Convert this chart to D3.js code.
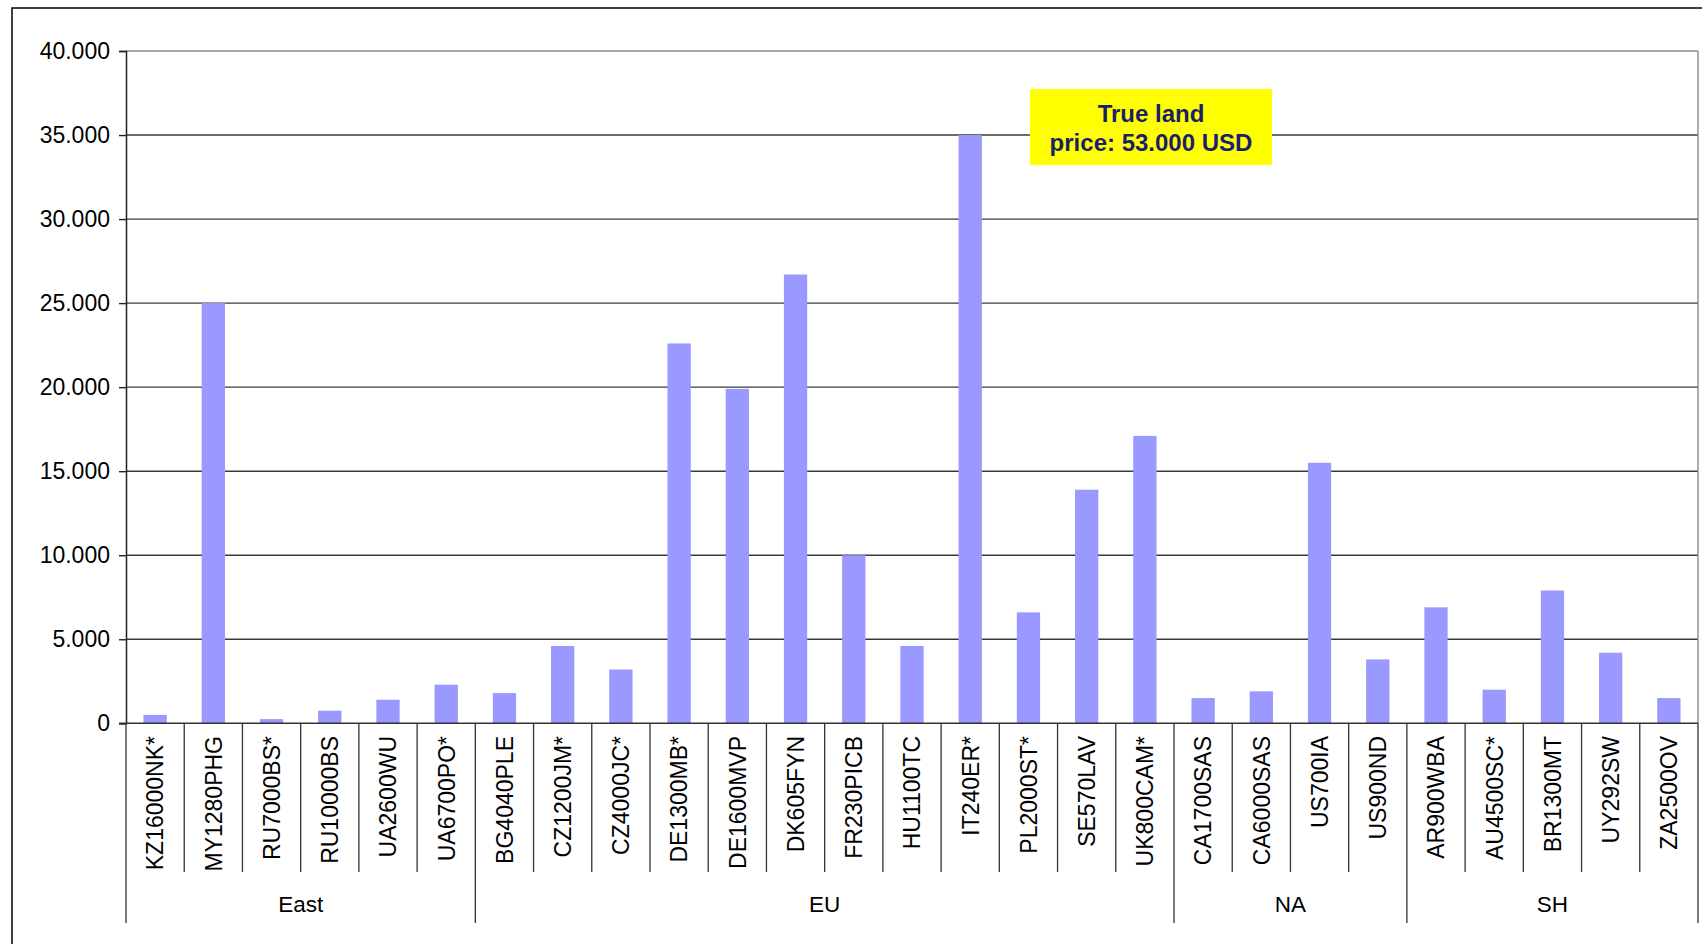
<!DOCTYPE html>
<html>
<head>
<meta charset="utf-8">
<script src="https://cdn.jsdelivr.net/npm/d3@7"></script>
<style>
  html, body { margin: 0; padding: 0; background: #fff; }
  svg { display: block; font-family: "Liberation Sans", Arial, sans-serif; }
</style>
</head>
<body>
<div id="chart"></div>
<script>
// land price per farm, grouped by region
var categories = ['KZ16000NK*', 'MY1280PHG', 'RU7000BS*', 'RU10000BS', 'UA2600WU', 'UA6700PO*',
  'BG4040PLE', 'CZ1200JM*', 'CZ4000JC*', 'DE1300MB*', 'DE1600MVP', 'DK605FYN', 'FR230PICB',
  'HU1100TC', 'IT240ER*', 'PL2000ST*', 'SE570LAV', 'UK800CAM*',
  'CA1700SAS', 'CA6000SAS', 'US700IA', 'US900ND',
  'AR900WBA', 'AU4500SC*', 'BR1300MT', 'UY292SW', 'ZA2500OV'];
var values = [500, 25000, 250, 750, 1400, 2300,
  1800, 4600, 3200, 22600, 19900, 26700, 10000,
  4600, 35000, 6600, 13900, 17100,
  1500, 1900, 15500, 3800,
  6900, 2000, 7900, 4200, 1500];
var groupNames = ['East', 'EU', 'NA', 'SH'];
var groupSizes = [6, 12, 4, 5];
var yTicks = [0, 5000, 10000, 15000, 20000, 25000, 30000, 35000, 40000];
var noteLines = ['True land', 'price: 53.000 USD'];

var width = 1702, height = 944;
var plotLeft = 126, plotRight = 1698, plotTop = 51, plotBottom = 723.3;

var svg = d3.select('#chart')
  .append('svg')
    .attr('width', width)
    .attr('height', height);

// outer chart frame (runs off the right/bottom edge)
svg.append('path')
  .attr('d', 'M12,' + height + ' V8 H' + (width + 10))
  .style('fill', 'none')
  .style('stroke', '#000')
  .style('stroke-width', 1.5);

var x = d3.scaleBand()
  .domain(categories)
  .range([plotLeft, plotRight])
  .padding(0);

var y = d3.scaleLinear()
  .domain([0, 40000])
  .range([plotBottom, plotTop]);

var fmt = d3.formatLocale({ decimal: ',', thousands: '.', grouping: [3], currency: ['', ''] }).format(',');

// gridlines
svg.append('g')
  .selectAll('line.grid')
  .data(yTicks.filter(function (t) { return t > 0; }))
  .enter().append('line')
    .classed('grid', true)
    .attr('x1', plotLeft)
    .attr('x2', plotRight)
    .attr('y1', function (t) { return y(t); })
    .attr('y2', function (t) { return y(t); })
    .style('stroke', function (t) { return t === 40000 ? '#8a8a8a' : '#3a3a3a'; })
    .style('stroke-width', 1.4);

// right border of plot area
svg.append('line')
  .attr('x1', plotRight).attr('x2', plotRight)
  .attr('y1', y(40000)).attr('y2', y(0))
  .style('stroke', '#8a8a8a')
  .style('stroke-width', 1.4);

// bars
svg.append('g')
  .selectAll('rect.bar')
  .data(values)
  .enter().append('rect')
    .classed('bar', true)
    .attr('x', function (v, i) { return x(categories[i]) + x.bandwidth() * 0.3; })
    .attr('width', x.bandwidth() * 0.4)
    .attr('y', function (v) { return y(v); })
    .attr('height', function (v) { return y(0) - y(v); })
    .style('fill', '#9999ff');

// y axis
var yAxis = svg.append('g')
  .attr('transform', 'translate(' + plotLeft + ',0)')
  .call(d3.axisLeft(y).tickValues(yTicks).tickFormat(fmt).tickSize(7).tickPadding(9));
yAxis.select('.domain').style('stroke', '#222').style('stroke-width', 1.5);
yAxis.selectAll('.tick line').style('stroke', '#222').style('stroke-width', 1.4);
yAxis.selectAll('.tick text')
  .style('font-size', '23px')
  .style('fill', '#000')
  .style('font-family', '"Liberation Sans", Arial, sans-serif');

// x axis line
svg.append('line')
  .attr('x1', plotLeft - 7).attr('x2', plotRight)
  .attr('y1', y(0)).attr('y2', y(0))
  .style('stroke', '#333')
  .style('stroke-width', 1.5);

// category dividers, longer at group edges
var groupEdges = [0];
groupSizes.forEach(function (n, i) { groupEdges.push(groupEdges[i] + n); });
var dividers = d3.range(categories.length + 1);
svg.append('g')
  .selectAll('line.div')
  .data(dividers)
  .enter().append('line')
    .classed('div', true)
    .attr('x1', function (i) { return plotLeft + i * x.step(); })
    .attr('x2', function (i) { return plotLeft + i * x.step(); })
    .attr('y1', y(0))
    .attr('y2', function (i) { return groupEdges.indexOf(i) >= 0 ? 923 : 872; })
    .style('stroke', '#333')
    .style('stroke-width', 1.3);

// category labels
svg.append('g')
  .selectAll('text.cat')
  .data(categories)
  .enter().append('text')
    .classed('cat', true)
    .attr('transform', function (c) {
      return 'translate(' + (x(c) + x.bandwidth() / 2) + ',736) rotate(-90)';
    })
    .attr('dy', '0.36em')
    .attr('text-anchor', 'end')
    .style('font-size', '23px')
    .style('fill', '#000')
    .text(function (c) { return c; });

// group labels
svg.append('g')
  .selectAll('text.grp')
  .data(groupNames)
  .enter().append('text')
    .classed('grp', true)
    .attr('x', function (g, i) { return plotLeft + (groupEdges[i] + groupEdges[i + 1]) / 2 * x.step(); })
    .attr('y', 912)
    .attr('text-anchor', 'middle')
    .style('font-size', '22.5px')
    .style('fill', '#000')
    .text(function (g) { return g; });

// note box
var note = svg.append('g');
note.append('rect')
  .attr('x', 1030).attr('y', 89)
  .attr('width', 242).attr('height', 76)
  .style('fill', '#ffff00');
note.selectAll('text')
  .data(noteLines)
  .enter().append('text')
    .attr('x', 1151)
    .attr('y', function (d, i) { return 122 + i * 29; })
    .attr('text-anchor', 'middle')
    .style('font-size', '24px')
    .style('font-weight', 'bold')
    .style('fill', '#1a1f6b')
    .text(function (d) { return d; });
</script>
</body>
</html>
